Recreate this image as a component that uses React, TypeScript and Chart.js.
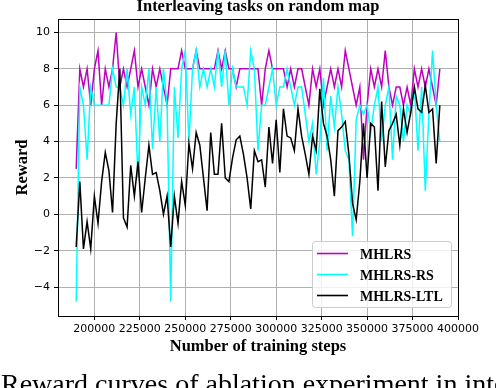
import React, { useEffect, useRef } from 'react';
import { Chart, registerables } from 'chart.js';
Chart.register(...registerables);

// x sampling of the training curves (every 2000 steps)
const steps = Array.from({ length: 101 }, (_, i) => 190000 + i * 2000);

const mhlrs = [
  2.5, 8, 7, 8, 6, 8, 9, 6, 8, 7,
  8, 10, 7, 8, 7, 8, 9, 7, 8, 7,
  6, 8, 7, 8, 7, 6, 8, 8, 8, 9,
  8, 8, 8, 9, 8, 8, 8, 8, 8, 9,
  8, 9, 8, 8, 7, 8, 8, 8, 8, 8,
  8, 6, 8, 9, 8, 8, 8, 8, 7, 8,
  7, 8, 8, 7, 6, 8, 7, 8, 6, 7,
  8, 7, 8, 7, 9, 8, 7, 6, 7, 3,
  6, 8, 7, 8, 7, 9, 7, 6, 7, 7,
  6, 7, 6, 8, 7, 8, 7, 8, 7, 6,
  8,
];

const mhlrsRS = [
  -4.8, 7, 6, 3, 7, 6, 6, 6, 6, 6,
  8, 7, 7, 6, 8, 5.5, 7, 2, 7, 6,
  8, 3.6, 7, 4, 8, 6, -4.8, 7, 4.2, 8,
  9, 4, 8, 9, 7, 8, 7, 8, 7, 9,
  7, 9, 6, 8, 7, 7, 7, 6, 9, 8,
  3.5, 6, 6, 7, 8, 6, 7, 7, 8, 7,
  6, 7, 7, 5.5, 4, 5, 2.2, 4, 7.5, 3.5,
  6.5, 4.8, 7, 5.5, 3.5, 3, -1.2, 5.2, 6, 5.5,
  6, 4.5, 6, 7, 4, 6, 7, 3, 6.5, 6,
  4, 6, 5.5, 7, 3.5, 7, 1.3, 5.5, 9, 6,
  4,
];

const mhlrsLTL = [
  -1.8, 1.8, -1.9, -0.4, -1.9, 1.0, -0.5, 1.8, 3.4, 2.4,
  0.1, 5.0, 8.0, -0.2, -0.7, 2.7, 1.0, 2.9, 0.1, 2.0,
  3.8, 2.2, 2.3, 1.3, 0.0, 1.0, -1.8, 1.0, -0.5, 1.8,
  0.5, 3.9, 2.5, 4.5, 3.8, 2.0, 0.2, 4.5, 2.2, 2.2,
  5.0, 2.0, 1.8, 3.1, 4.1, 4.3, 3.3, 2.0, 0.3, 3.5,
  2.9, 3.0, 1.5, 4.8, 2.8, 5.2, 2.3, 5.8, 4.3, 4.2,
  3.5, 5.8, 4.3, 3.3, 2.2, 4.3, 3.5, 6.9, 5.0, 4.3,
  3.0, 1.0, 4.6, 4.8, 5.1, 3.3, 0.6, -0.3, 1.8, 5.0,
  2.0, 5.0, 4.8, 1.3, 6.2, 2.6, 4.6, 5.0, 5.5, 3.8,
  5.8, 4.5, 5.6, 7.0, 5.8, 5.6, 7.1, 5.6, 5.8, 2.8,
  6.0,
];

const seriesLabels = ['MHLRS', 'MHLRS-RS', 'MHLRS-LTL'];
const seriesColors = ['#bf00bf', '#00ffff', '#000000'];
const xTicks = [200000, 225000, 250000, 275000, 300000, 325000, 350000, 375000, 400000];
const yTicks = [-4, -2, 0, 2, 4, 6, 8, 10];
const titleText = 'Interleaving tasks on random map';
const xLabel = 'Number of training steps';
const yLabel = 'Reward';
const captionText = 'Reward curves of ablation experiment in interleaving tasks';

export default function App() {
  const ref = useRef<HTMLCanvasElement>(null);

  useEffect(() => {
    document.body.style.margin = '0';
    const seriesData = [mhlrs, mhlrsRS, mhlrsLTL];

    const decor = {
      id: 'decor',
      afterDraw(chart: any) {
        const ctx = chart.ctx as CanvasRenderingContext2D;
        const a = chart.chartArea;
        ctx.save();
        // frame
        ctx.strokeStyle = '#000';
        ctx.lineWidth = 1;
        ctx.strokeRect(Math.round(a.left) + 0.5, Math.round(a.top) + 0.5,
          Math.round(a.right - a.left), Math.round(a.bottom - a.top));

        // legend box
        const bx = 312.5, by = 241.5, bw = 139, bh = 66;
        ctx.beginPath();
        if ((ctx as any).roundRect) (ctx as any).roundRect(bx, by, bw, bh, 3);
        else ctx.rect(bx, by, bw, bh);
        ctx.fillStyle = 'rgba(255,255,255,0.8)';
        ctx.fill();
        ctx.strokeStyle = '#cccccc';
        ctx.stroke();
        const rows = [253.5, 274.5, 295.5];
        ctx.font = 'bold 14px "Liberation Serif"';
        ctx.textAlign = 'left';
        ctx.textBaseline = 'alphabetic';
        seriesLabels.forEach((lab, i) => {
          ctx.strokeStyle = seriesColors[i];
          ctx.lineWidth = 1.6;
          ctx.beginPath();
          ctx.moveTo(317, rows[i]);
          ctx.lineTo(348, rows[i]);
          ctx.stroke();
          ctx.fillStyle = '#000';
          ctx.fillText(lab, 360, rows[i] + 5.2);
        });

        // titles
        ctx.fillStyle = '#000';
        ctx.font = 'bold 16.5px "Liberation Serif"';
        ctx.textAlign = 'center';
        ctx.fillText(titleText, (a.left + a.right) / 2, 10.5);
        ctx.fillText(xLabel, (a.left + a.right) / 2, 350.5);
        ctx.save();
        ctx.translate(26.5, (a.top + a.bottom) / 2);
        ctx.rotate(-Math.PI / 2);
        ctx.fillText(yLabel, 0, 0);
        ctx.restore();

        // caption (cut by the page edge)
        ctx.font = '28px "Liberation Serif"';
        ctx.textAlign = 'left';
        ctx.fillText(captionText, 1, 393);
        ctx.restore();
      },
    };

    const tickFont = { family: 'DejaVu Sans', size: 11 };
    const chart = new Chart(ref.current as HTMLCanvasElement, {
      type: 'line',
      data: {
        datasets: seriesLabels.map((label, k) => ({
          label,
          data: steps.map((x, i) => ({ x, y: seriesData[k][i] })),
          borderColor: seriesColors[k],
          backgroundColor: seriesColors[k],
          borderWidth: 1.5,
          pointRadius: 0,
          tension: 0,
          fill: false,
          order: 3 - k,
        })),
      },
      options: {
        responsive: false,
        animation: false,
        devicePixelRatio: 1,
        layout: { padding: { left: 0, top: 19, right: 38, bottom: 0 } },
        plugins: {
          legend: { display: false },
          title: { display: false },
          tooltip: { enabled: false },
        },
        scales: {
          x: {
            type: 'linear',
            min: 180000,
            max: 400000,
            afterBuildTicks: (s: any) => { s.ticks = xTicks.map((v) => ({ value: v })); },
            afterFit: (s: any) => {
              s.height = 72;
              s.paddingLeft = 0; s.paddingRight = 0; s.paddingTop = 0; s.paddingBottom = 0;
            },
            ticks: {
              callback: (v: any) => String(v),
              color: '#000',
              font: tickFont,
              maxRotation: 0,
              minRotation: 0,
              autoSkip: false,
              padding: 3,
            },
            grid: { color: '#b0b0b0', lineWidth: 1, tickColor: '#000', tickLength: 4 },
            border: { display: false },
          },
          y: {
            type: 'linear',
            min: -5.59,
            max: 10.74,
            afterBuildTicks: (s: any) => { s.ticks = yTicks.map((v) => ({ value: v })); },
            afterFit: (s: any) => {
              s.width = 58;
              s.paddingLeft = 0; s.paddingRight = 0; s.paddingTop = 0; s.paddingBottom = 0;
            },
            ticks: {
              callback: (v: any) => (v < 0 ? '\u2212' + Math.abs(v) : String(v)),
              color: '#000',
              font: tickFont,
              autoSkip: false,
              padding: 4,
            },
            grid: { color: '#b0b0b0', lineWidth: 1, tickColor: '#000', tickLength: 4 },
            border: { display: false },
          },
        },
      } as any,
      plugins: [decor],
    });
    return () => chart.destroy();
  }, []);

  return (
    <div style={{ position: 'relative', width: 496, height: 388, overflow: 'hidden' }}>
      <canvas ref={ref} width={496} height={388} style={{ display: 'block' }} />
    </div>
  );
}
